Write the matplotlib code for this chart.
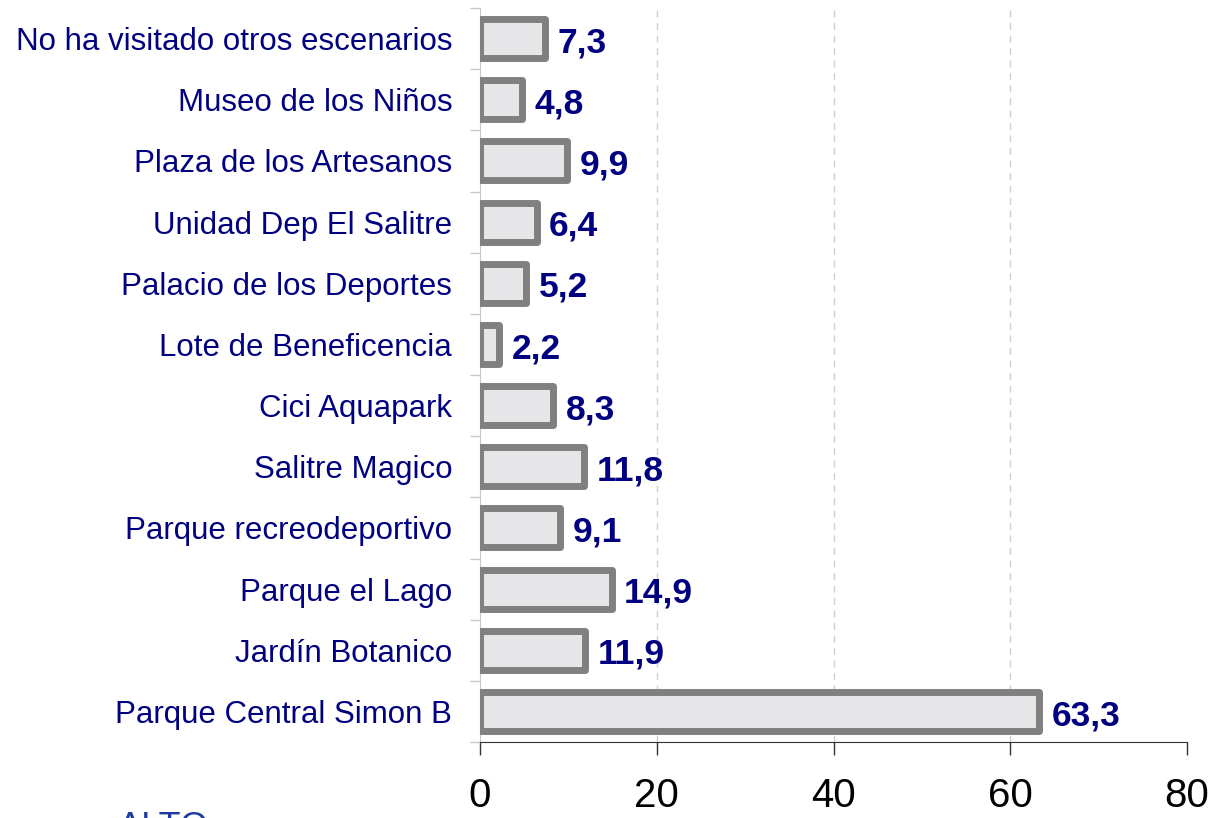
import matplotlib
matplotlib.use("Agg")
import matplotlib.pyplot as plt

categories = ["Parque Central Simon B", "Jardín Botanico", "Parque el Lago",
              "Parque recreodeportivo", "Salitre Magico", "Cici Aquapark",
              "Lote de Beneficencia", "Palacio de los Deportes",
              "Unidad Dep El Salitre", "Plaza de los Artesanos",
              "Museo de los Niños", "No ha visitado otros escenarios"]
values = [63.3, 11.9, 14.9, 9.1, 11.8, 8.3, 2.2, 5.2, 6.4, 9.9, 4.8, 7.3]
xticks = [0, 20, 40, 60, 80]
gridlines = [20, 40, 60]

plt.rcParams['font.family'] = ['Liberation Sans', 'DejaVu Sans']
navy = '#000080'

fig = plt.figure(figsize=(12.13, 8.18), dpi=100)
ax = fig.add_axes([480/1213, 1-742/818, (1187-480)/1213, 734/818])

ypos = list(range(len(categories)))
ax.barh(ypos, values, height=0.64, color='#e6e6e8', edgecolor='#808080',
        linewidth=5, joinstyle='round', zorder=3)

for y, v in zip(ypos, values):
    ax.annotate(f"{v:.1f}".replace('.', ','), xy=(v, y), xytext=(9, -3),
                textcoords='offset points', va='center', ha='left',
                fontsize=25.5, fontweight='bold', color=navy, zorder=4)

ax.set_xlim(0, 80)
ax.set_ylim(-0.5, len(categories) - 0.5)
ax.set_xticks(xticks)
ax.set_xticklabels([str(t) for t in xticks], fontsize=29)
ax.set_yticks(ypos)
ax.set_yticklabels(categories, fontsize=22.5, color=navy)
ax.tick_params(axis='y', length=0, pad=20)
ax.set_yticks([i - 0.5 for i in range(len(categories) + 1)], minor=True)
ax.tick_params(axis='y', which='minor', length=7, color='#c8c8c8', width=1)
ax.tick_params(axis='x', length=9, width=1, color='#333333', pad=16)

for g in gridlines:
    ax.axvline(g, linestyle=(0, (5, 4)), color='#d0d0d0', linewidth=1, zorder=0)
for s in ['top', 'right']:
    ax.spines[s].set_visible(False)
ax.spines['left'].set_color('#c8c8c8')
ax.spines['bottom'].set_color('#333333')

fig.text(118/1213, -20/818, 'ALTO', fontsize=26, color='#1f3d9e', va='baseline')

fig.savefig('out.png', dpi=100)
